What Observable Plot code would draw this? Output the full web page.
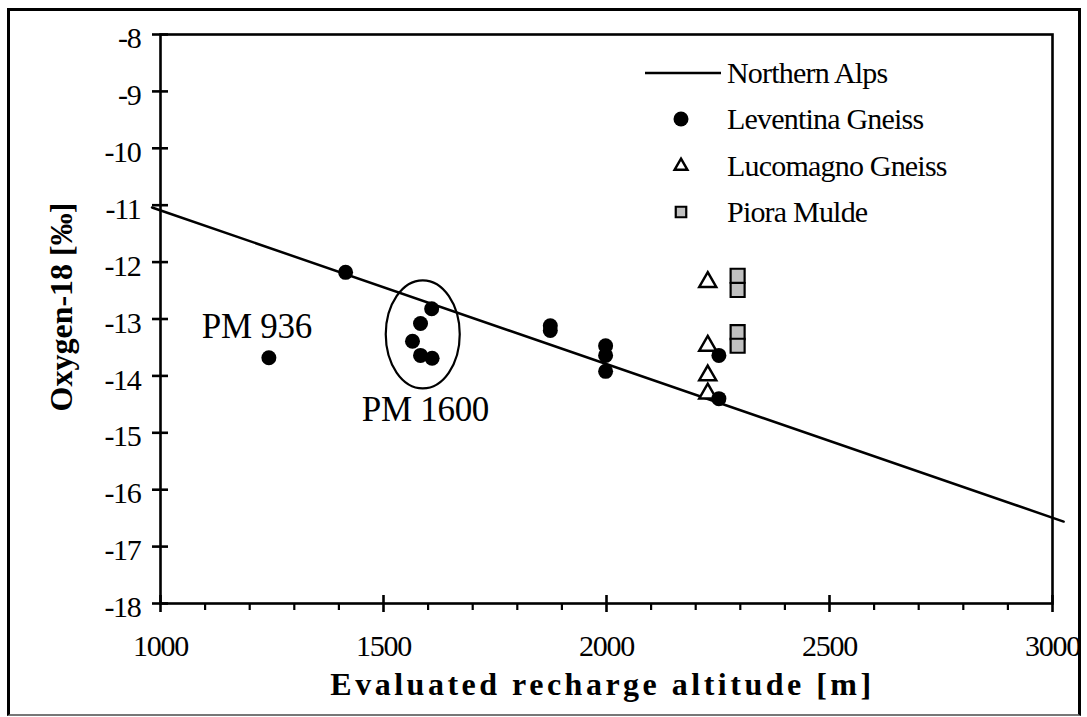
<!DOCTYPE html>
<html><head><meta charset="utf-8">
<script src="https://cdn.jsdelivr.net/npm/d3@7"></script>
<script src="https://cdn.jsdelivr.net/npm/@observablehq/plot@0.6"></script>
<style>
body{margin:0;background:#fff;}
#wrap{position:relative;width:1087px;height:717px;font-family:"Liberation Serif","Times New Roman",serif;}
#border{position:absolute;left:7px;top:8px;width:1074px;height:708px;box-sizing:border-box;border:3px solid #000;border-bottom:2px solid #777;pointer-events:none;}
#legend{position:absolute;left:0;top:0;pointer-events:none;}
</style></head><body><div id="wrap"><div id="border"></div></div>
<script>
const leventinaAltitude = [1243,1415,1565,1583,1583,1608,1609,1874,1874,1998,1998,1998,2252,2252];
const leventinaO18 = [-13.68,-12.18,-13.39,-13.08,-13.64,-12.82,-13.69,-13.12,-13.20,-13.47,-13.64,-13.92,-13.64,-14.40];
const lucomagnoAltitude = [2227,2227,2227,2227];
const lucomagnoO18 = [-12.35,-13.47,-13.99,-14.31];
const pioraAltitude = [2294,2294,2294,2294];
const pioraO18 = [-12.24,-12.49,-13.23,-13.47];
const northernAlpsAltitude = [981,3025];
const northernAlpsO18 = [-11.04,-16.56];
const xTicks = [1000,1500,2000,2500,3000];
const xMinorTicks = [1100,1200,1300,1400,1600,1700,1800,1900,2100,2200,2300,2400,2600,2700,2800,2900];
const yTicks = [-8,-9,-10,-11,-12,-13,-14,-15,-16,-17,-18];
const annotationText = ["PM 936","PM 1600"];
const annotationAltitude = [1216,1594];
const annotationO18 = [-13.13,-14.6];
const circleAltitude = [1588];
const circleO18 = [-13.27];
const legendLabels = ["Northern Alps","Leventina Gneiss","Lucomagno Gneiss","Piora Mulde"];
const xTitle = "Evaluated recharge altitude [m]";
const yTitle = "Oxygen-18 [‰]";

const zip = (xs, ys) => xs.map((x, i) => ({x, y: ys[i]}));
const leventina = zip(leventinaAltitude, leventinaO18);
const lucomagno = zip(lucomagnoAltitude, lucomagnoO18);
const piora = zip(pioraAltitude, pioraO18);
const northern = zip(northernAlpsAltitude, northernAlpsO18);
const annotations = annotationText.map((t, i) => ({t, x: annotationAltitude[i], y: annotationO18[i]}));
const circled = zip(circleAltitude, circleO18);

const ellipseSymbol = {draw(ctx) {
  const rx = 37, ry = 54, k = 0.5523;
  ctx.moveTo(rx, 0);
  ctx.bezierCurveTo(rx, k*ry, k*rx, ry, 0, ry);
  ctx.bezierCurveTo(-k*rx, ry, -rx, k*ry, -rx, 0);
  ctx.bezierCurveTo(-rx, -k*ry, -k*rx, -ry, 0, -ry);
  ctx.bezierCurveTo(k*rx, -ry, rx, -k*ry, rx, 0);
  ctx.closePath();
}};

const font = '"Liberation Serif","Times New Roman",serif';
const chart = Plot.plot({
  width: 1087, height: 717,
  marginLeft: 160, marginRight: 35, marginTop: 34, marginBottom: 114,
  x: {domain: [1000, 3000], axis: null},
  y: {domain: [-18, -8], axis: null},
  style: {fontFamily: font, background: "transparent", overflow: "visible", color: "#000"},
  marks: [
    Plot.frame({stroke: "#000", strokeWidth: 2.6}),
    Plot.ruleX(xTicks, {x: d => d, y1: -18, y2: -18, insetTop: -8, insetBottom: -9, stroke: "#000", strokeWidth: 2.6}),
    Plot.ruleX(xMinorTicks, {x: d => d, y1: -18, y2: -18, insetTop: 0, insetBottom: -7, stroke: "#000", strokeWidth: 2.2}),
    Plot.ruleY(yTicks, {y: d => d, x1: 1000, x2: 1000, insetLeft: -8, insetRight: -8, stroke: "#000", strokeWidth: 2.6}),
    Plot.text(xTicks, {x: d => d, y: -18, dy: 43, text: d => String(d), fontSize: 30, fill: "#000"}),
    Plot.text(yTicks, {x: 1000, y: d => d, dx: -20, dy: 4, textAnchor: "end", text: d => String(d), fontSize: 30, fill: "#000"}),
    Plot.line(northern, {x: "x", y: "y", stroke: "#000", strokeWidth: 2.5}),
    Plot.dot(circled, {x: "x", y: "y", symbol: ellipseSymbol, r: 10, fill: "none", stroke: "#000", strokeWidth: 2.2}),
    Plot.dot(lucomagno, {x: "x", y: "y", symbol: "triangle", r: 6.3, fill: "#fff", stroke: "#000", strokeWidth: 2.5}),
    Plot.dot(leventina, {x: "x", y: "y", r: 7.5, fill: "#000", stroke: "none"}),
    Plot.dot(piora, {x: "x", y: "y", symbol: "square", r: 7.9, fill: "#c0c0c0", stroke: "#000", strokeWidth: 2.2}),
    Plot.text(annotations, {x: "x", y: "y", text: "t", fontSize: 35, fill: "#000"}),
    Plot.text([xTitle], {frameAnchor: "bottom", textAnchor: "middle", dx: -4, dy: 91, text: d => d, fontSize: 32, fontWeight: "bold", fill: "#000"}),
    Plot.text([yTitle], {frameAnchor: "left", textAnchor: "middle", lineAnchor: "middle", rotate: -90, dx: -99, dy: -12, text: d => d, fontSize: 32, fontWeight: "bold", fill: "#000"})
  ]
});
const wrap = document.getElementById("wrap");
wrap.insertBefore(chart, wrap.firstChild);
const tickStrings = new Set([...xTicks, ...yTicks].map(String));
chart.querySelectorAll("text").forEach(t => {
  const s = t.textContent;
  if (tickStrings.has(s)) t.style.letterSpacing = "-1.3px";
  else if (s === xTitle) t.style.letterSpacing = "3.5px";
  else if (annotationText.includes(s)) t.style.letterSpacing = "-0.3px";
});

// legend overlay
const lg = d3.select(wrap).append("svg").attr("id", "legend").attr("width", 1087).attr("height", 717);
const rowY = [73, 119, 166, 212];
const g = lg.append("g").attr("font-family", font).attr("font-size", 30).attr("fill", "#000");
legendLabels.forEach((label, i) => {
  const y = rowY[i];
  if (i === 0) {
    g.append("line").attr("x1", 645).attr("x2", 721).attr("y1", y).attr("y2", y).attr("stroke", "#000").attr("stroke-width", 2.5);
  } else if (i === 1) {
    g.append("circle").attr("cx", 681).attr("cy", y).attr("r", 7.5).attr("fill", "#000");
  } else if (i === 2) {
    g.append("path").attr("transform", `translate(681,${y})`).attr("d", d3.symbol(d3.symbolTriangle, 70)()).attr("fill", "#fff").attr("stroke", "#000").attr("stroke-width", 2.5);
  } else {
    g.append("path").attr("transform", `translate(681,${y})`).attr("d", d3.symbol(d3.symbolSquare, 110)()).attr("fill", "#c0c0c0").attr("stroke", "#000").attr("stroke-width", 2.2);
  }
  g.append("text").attr("x", 727).attr("y", y + 10).attr("letter-spacing", "-0.8px").text(label);
});
</script></body></html>
